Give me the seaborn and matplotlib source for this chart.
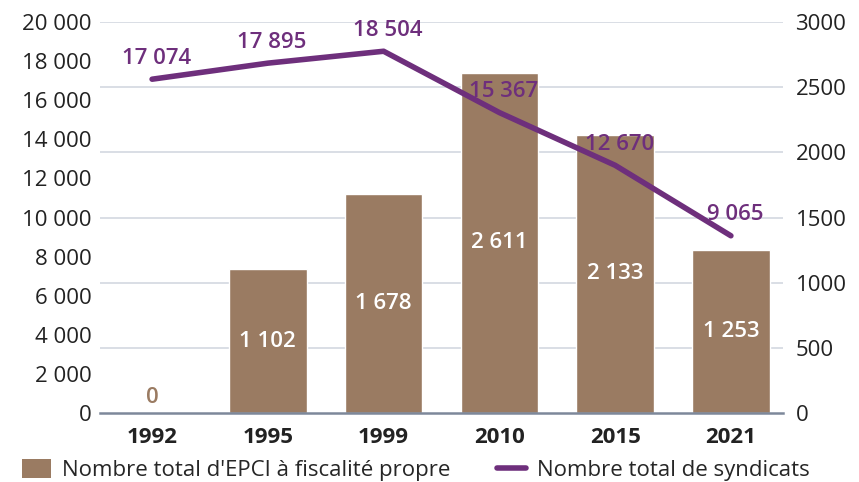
import numpy as np
import pandas as pd
import matplotlib
matplotlib.use("Agg")
import matplotlib.pyplot as plt
from matplotlib.patches import Patch
from matplotlib.lines import Line2D
import seaborn as sns

years = ["1992", "1995", "1999", "2010", "2015", "2021"]
epci = [0, 1102, 1678, 2611, 2133, 1253]
syndicats = [17074, 17895, 18504, 15367, 12670, 9065]

bar_color = "#9a7b62"
line_color = "#6e2f7c"
grid_color = "#d3d8e0"

sns.set_style("white")
plt.rcParams["font.family"] = ["Open Sans", "DejaVu Sans"]

def fmt(v):
    return f"{v:,}".replace(",", " ")

df = pd.DataFrame({"annee": years, "epci": epci, "synd": syndicats, "pos": range(len(years))})

fig = plt.figure(figsize=(8.59, 4.82), dpi=100)
ax = fig.add_axes([100 / 859, 69 / 482, 683 / 859, 391 / 482])

# bars -> right axis (0-3000)
sns.barplot(data=df, x="annee", y="epci", color=bar_color, width=0.67,
            saturation=1, ax=ax)
ax.set_ylim(0, 3000)
ax.set_xlim(-0.45, 5.45)
ax.set_yticks(np.arange(0, 3001, 500))
ax.set_yticklabels([str(v) for v in range(0, 3001, 500)])

for i, v in enumerate(epci):
    if v == 0:
        ax.text(i, 120, "0", ha="center", va="center", color=bar_color,
                fontsize=16, fontweight="semibold")
    else:
        ax.text(i, v / 2, fmt(v), ha="center", va="center", color="white",
                fontsize=16, fontweight="semibold")

# line -> left axis (0-20000)
ax2 = ax.twinx()
ax.yaxis.tick_right()
sns.lineplot(data=df, x="pos", y="synd", color=line_color, linewidth=4,
             ax=ax2, legend=False)
ax2.set_ylim(0, 20000)
ax2.yaxis.tick_left()
ax2.set_yticks(np.arange(0, 20001, 2000))
ax2.set_yticklabels([fmt(v) for v in range(0, 20001, 2000)])
for i, v in enumerate(syndicats):
    ax2.annotate(fmt(v), (i, v), xytext=(3, 15), textcoords="offset points",
                 ha="center", va="center", color=line_color,
                 fontsize=16, fontweight="semibold")

# gridlines on the back axis
for y in np.arange(500, 3001, 500):
    ax.axhline(y, color=grid_color, lw=1.2, zorder=0)
ax.set_axisbelow(True)

for a in (ax, ax2):
    for s in a.spines.values():
        s.set_visible(False)
    a.set_xlabel("")
    a.set_ylabel("")
    a.tick_params(axis="y", length=0, labelsize=16, colors="#222222")
ax2.tick_params(axis="y", pad=6)
ax.tick_params(axis="y", pad=9)

ax2.spines["bottom"].set_visible(True)
ax2.spines["bottom"].set_color("#7d889a")
ax2.spines["bottom"].set_linewidth(1.8)
ax.tick_params(axis="x", length=0, labelsize=16, pad=10)
for t in ax.get_xticklabels():
    t.set_fontweight("bold")
    t.set_color("#222222")

handles = [Patch(facecolor=bar_color, edgecolor="none"),
           Line2D([0], [0], color=line_color, lw=4)]
labels = ["Nombre total d'EPCI à fiscalité propre", "Nombre total de syndicats"]
fig.legend(handles, labels, loc="center left",
           bbox_to_anchor=(22 / 859, 12 / 482),
           ncol=2, frameon=False, fontsize=16, handlelength=1.3,
           handleheight=0.9, columnspacing=2.1, handletextpad=0.5,
           borderaxespad=0, borderpad=0)

fig.savefig("out.png", dpi=100)
